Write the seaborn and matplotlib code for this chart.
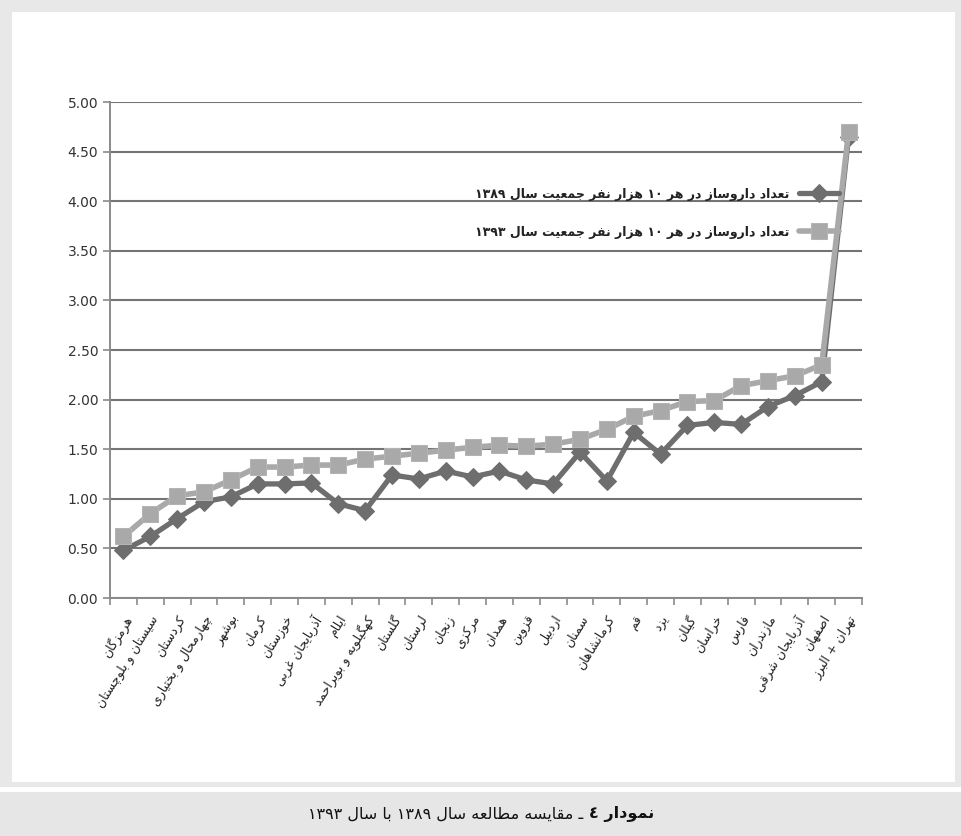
import re
import numpy as np
import pandas as pd
import seaborn as sns
import matplotlib.pyplot as plt
from matplotlib.patches import Rectangle
from matplotlib.ticker import FixedLocator

# provinces, from left to right on the x axis
provinces = [
    'هرمزگان', 'سیستان و بلوچستان', 'کردستان', 'چهارمحال و بختیاری', 'بوشهر',
    'کرمان', 'خوزستان', 'آذربایجان غربی', 'ایلام', 'کهگیلویه و بویراحمد',
    'گلستان', 'لرستان', 'زنجان', 'مرکزی', 'همدان', 'قزوین', 'اردبیل', 'سمنان',
    'کرمانشاهان', 'قم', 'یزد', 'گیلان', 'خراسان', 'فارس', 'مازندران',
    'آذربایجان شرقی', 'اصفهان', 'تهران + البرز',
]
val_1389 = [0.48, 0.62, 0.80, 0.97, 1.02, 1.15, 1.15, 1.16, 0.95, 0.88,
            1.24, 1.20, 1.28, 1.22, 1.28, 1.19, 1.15, 1.47, 1.18, 1.67,
            1.45, 1.74, 1.77, 1.75, 1.93, 2.04, 2.18, 4.65]
val_1393 = [0.62, 0.85, 1.03, 1.07, 1.19, 1.32, 1.32, 1.34, 1.34, 1.40,
            1.43, 1.46, 1.49, 1.52, 1.54, 1.53, 1.55, 1.60, 1.70, 1.83,
            1.89, 1.98, 1.99, 2.14, 2.19, 2.24, 2.35, 4.70]
y_ticks = [0.0, 0.5, 1.0, 1.5, 2.0, 2.5, 3.0, 3.5, 4.0, 4.5, 5.0]

legend_1389 = 'تعداد داروساز در هر ۱۰ هزار نفر جمعیت سال ۱۳۸۹'
legend_1393 = 'تعداد داروساز در هر ۱۰ هزار نفر جمعیت سال ۱۳۹۳'
caption_bold = 'نمودار ٤'
caption_rest = 'ـ مقایسه مطالعه سال ۱۳۸۹ با سال ۱۳۹۳'


# matplotlib has no arabic shaping / bidi, so do a small one by hand
def four(b):
    return (b, b + 1, b + 2, b + 3)

FORMS = {
    'ا': (0xFE8D, 0xFE8E), 'آ': (0xFE81, 0xFE82),
    'ب': four(0xFE8F), 'پ': four(0xFB56), 'ت': four(0xFE95), 'ث': four(0xFE99),
    'ج': four(0xFE9D), 'چ': four(0xFB7A), 'ح': four(0xFEA1), 'خ': four(0xFEA5),
    'د': (0xFEA9, 0xFEAA), 'ذ': (0xFEAB, 0xFEAC), 'ر': (0xFEAD, 0xFEAE),
    'ز': (0xFEAF, 0xFEB0), 'ژ': (0xFB8A, 0xFB8B),
    'س': four(0xFEB1), 'ش': four(0xFEB5), 'ص': four(0xFEB9), 'ض': four(0xFEBD),
    'ط': four(0xFEC1), 'ظ': four(0xFEC5), 'ع': four(0xFEC9), 'غ': four(0xFECD),
    'ف': four(0xFED1), 'ق': four(0xFED5), 'ک': four(0xFB8E), 'گ': four(0xFB92),
    'ل': four(0xFEDD), 'م': four(0xFEE1), 'ن': four(0xFEE5), 'ه': four(0xFEE9),
    'و': (0xFEED, 0xFEEE), 'ی': four(0xFBFC),
}


def fa(text):
    out = []
    for i, ch in enumerate(text):
        f = FORMS.get(ch)
        if f is None:
            out.append(ch)
            continue
        prev = text[i - 1] if i > 0 else ''
        nxt = text[i + 1] if i < len(text) - 1 else ''
        jp = prev in FORMS and len(FORMS[prev]) == 4
        jn = len(f) == 4 and nxt in FORMS
        if jp and jn:
            c = f[3]
        elif jp:
            c = f[1]
        elif jn:
            c = f[2]
        else:
            c = f[0]
        out.append(chr(c))
    shaped = ''.join(out)
    # right to left, but keep digit runs in order
    runs = re.findall(r'[0-9۰-۹٠-٩.]+|.', shaped)
    return ''.join(reversed(runs))


sns.set_style('white')
plt.rcParams['font.family'] = ['DejaVu Sans']

df = pd.DataFrame({
    'pos': np.arange(len(provinces)),
    'v1389': val_1389,
    'v1393': val_1393,
})

fig = plt.figure(figsize=(9.61, 8.36), dpi=100)
fig.patch.set_facecolor('white')

# frame and caption band
fig.patches.append(Rectangle((0, 49 / 836), 1, 1 - 49 / 836, transform=fig.transFigure,
                             facecolor='#e8e8e8', edgecolor='none', zorder=-3))
fig.patches.append(Rectangle((12 / 961, 54 / 836), 943 / 961, 770 / 836, transform=fig.transFigure,
                             facecolor='white', edgecolor='none', zorder=-2))
fig.patches.append(Rectangle((0, 0), 1, 44 / 836, transform=fig.transFigure,
                             facecolor='#e6e6e6', edgecolor='none', zorder=-3))

ax = fig.add_axes([110 / 961, 1 - 598 / 836, 752 / 961, 496 / 836])
ax.set_facecolor('none')

sns.lineplot(data=df, x='pos', y='v1389', ax=ax, color='#6e6e6e', linewidth=3.8,
             marker='D', markersize=9, markeredgecolor='#6e6e6e',
             label=fa(legend_1389), zorder=3)
sns.lineplot(data=df, x='pos', y='v1393', ax=ax, color='#a9a9a9', linewidth=4.0,
             marker='s', markersize=12, markeredgecolor='#b4b4b4',
             label=fa(legend_1393), zorder=4)

ax.set_xlim(-0.5, len(provinces) - 0.5)
ax.set_ylim(0, 5)
ax.set_yticks(y_ticks)
ax.set_yticklabels(['%.2f' % t for t in y_ticks])
ax.yaxis.grid(True, color='#747474', linewidth=1.5)
ax.xaxis.grid(False)
ax.set_axisbelow(True)

ax.set_xticks(df['pos'])
ax.set_xticklabels([fa(p) for p in provinces], rotation=58, ha='right',
                   rotation_mode='anchor', fontsize=9, color='#222222')
ax.xaxis.set_minor_locator(FixedLocator(np.arange(-0.5, len(provinces), 1.0)))
ax.tick_params(axis='x', which='major', length=0, pad=11)
ax.tick_params(axis='x', which='minor', length=5, width=1.2, color='#8a8a8a',
               direction='out', bottom=True)
ax.tick_params(axis='y', length=5, width=1.2, color='#8a8a8a', direction='out',
               labelsize=10, labelcolor='#333333', left=True)

for s in ['top', 'right']:
    ax.spines[s].set_visible(False)
for s in ['left', 'bottom']:
    ax.spines[s].set_color('#8a8a8a')
    ax.spines[s].set_linewidth(1.4)

ax.set_xlabel('')
ax.set_ylabel('')

leg = ax.legend(loc='upper right', bbox_to_anchor=(0.985, 0.85), frameon=False,
                markerfirst=False, handlelength=3.2, labelspacing=2.0, fontsize=9)
for t in leg.get_texts():
    t.set_fontweight('bold')
    t.set_color('#222222')

# caption, bold part on the right, whole line centred
yb = 22 / 836
gap = 6
tb = fig.text(0, yb, fa(caption_bold), ha='left', va='center', fontsize=11.5,
              fontweight='bold', color='#111111')
tr = fig.text(0, yb, fa(caption_rest), ha='left', va='center', fontsize=11.5,
              color='#111111')
fig.canvas.draw()
rend = fig.canvas.get_renderer()
wb = tb.get_window_extent(rend).width
wr = tr.get_window_extent(rend).width
x0 = 481 - (wb + wr + gap) / 2
tr.set_x(x0 / 961)
tb.set_x((x0 + wr + gap) / 961)

fig.savefig('out.png', dpi=100)
